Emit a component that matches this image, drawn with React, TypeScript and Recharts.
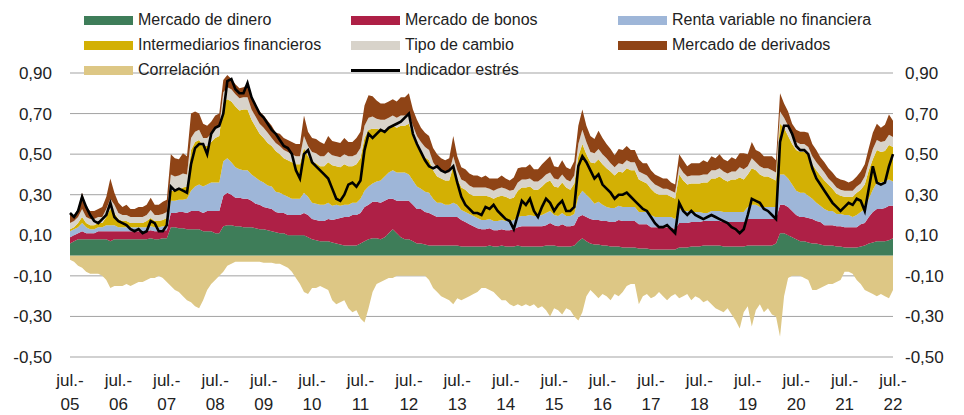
import { ComposedChart, Area, Line, XAxis, YAxis, CartesianGrid } from 'recharts'

// monthly, jul-05 .. jul-22 (one row per year)
const years = ['05', '06', '07', '08', '09', '10', '11', '12', '13', '14', '15', '16', '17', '18', '19', '20', '21', '22']

const dinero = [
  0.06, 0.07, 0.08, 0.08, 0.08, 0.08,
  0.08, 0.08, 0.08, 0.08, 0.07, 0.08, 0.08, 0.08, 0.08, 0.08, 0.08, 0.08,
  0.08, 0.08, 0.085, 0.08, 0.08, 0.085, 0.085, 0.14, 0.14, 0.135, 0.135, 0.13,
  0.13, 0.13, 0.13, 0.12, 0.12, 0.12, 0.11, 0.11, 0.145, 0.15, 0.15, 0.145,
  0.145, 0.14, 0.14, 0.14, 0.135, 0.13, 0.13, 0.125, 0.12, 0.115, 0.11, 0.11,
  0.1, 0.1, 0.1, 0.1, 0.1, 0.09, 0.08, 0.075, 0.07, 0.07, 0.07, 0.065,
  0.06, 0.055, 0.05, 0.05, 0.05, 0.05, 0.06, 0.07, 0.08, 0.085, 0.085, 0.08,
  0.09, 0.11, 0.13, 0.11, 0.09, 0.08, 0.08, 0.07, 0.06, 0.06, 0.055, 0.05,
  0.05, 0.05, 0.05, 0.05, 0.05, 0.05, 0.05, 0.045, 0.045, 0.045, 0.045, 0.045,
  0.045, 0.045, 0.05, 0.045, 0.045, 0.05, 0.045, 0.045, 0.045, 0.05, 0.045, 0.045,
  0.045, 0.045, 0.045, 0.045, 0.05, 0.05, 0.05, 0.045, 0.045, 0.045, 0.045, 0.05,
  0.07, 0.085, 0.07, 0.06, 0.055, 0.055, 0.05, 0.05, 0.045, 0.045, 0.045, 0.04,
  0.04, 0.04, 0.04, 0.035, 0.035, 0.035, 0.03, 0.03, 0.03, 0.03, 0.03, 0.03,
  0.03, 0.04, 0.04, 0.04, 0.045, 0.045, 0.045, 0.05, 0.05, 0.05, 0.05, 0.05,
  0.045, 0.045, 0.045, 0.045, 0.045, 0.045, 0.05, 0.05, 0.05, 0.05, 0.05, 0.05,
  0.05, 0.06, 0.11, 0.11, 0.1, 0.09, 0.08, 0.07, 0.07, 0.065, 0.06, 0.06,
  0.055, 0.05, 0.05, 0.05, 0.045, 0.045, 0.04, 0.04, 0.04, 0.04, 0.045, 0.05,
  0.06, 0.065, 0.07, 0.07, 0.07, 0.075, 0.085,
]

const bonos = [
  0.03, 0.03, 0.03, 0.04, 0.03, 0.03,
  0.03, 0.04, 0.04, 0.04, 0.05, 0.04, 0.04, 0.04, 0.04, 0.04, 0.04, 0.04,
  0.04, 0.04, 0.04, 0.04, 0.04, 0.04, 0.04, 0.07, 0.07, 0.08, 0.08, 0.08,
  0.09, 0.09, 0.09, 0.09, 0.1, 0.1, 0.11, 0.11, 0.15, 0.16, 0.15, 0.14,
  0.14, 0.14, 0.14, 0.13, 0.12, 0.12, 0.11, 0.11, 0.11, 0.1, 0.1, 0.1,
  0.1, 0.1, 0.1, 0.1, 0.11, 0.11, 0.1, 0.1, 0.1, 0.1, 0.11, 0.11,
  0.12, 0.13, 0.14, 0.14, 0.15, 0.15, 0.15, 0.17, 0.17, 0.18, 0.18, 0.18,
  0.18, 0.17, 0.15, 0.16, 0.18, 0.19, 0.19, 0.18, 0.17, 0.17, 0.16, 0.16,
  0.15, 0.14, 0.14, 0.14, 0.14, 0.14, 0.14, 0.13, 0.12, 0.11, 0.1, 0.09,
  0.085, 0.085, 0.085, 0.08, 0.08, 0.08, 0.08, 0.08, 0.085, 0.09, 0.1, 0.1,
  0.1, 0.1, 0.1, 0.1, 0.1, 0.11, 0.1, 0.1, 0.11, 0.1, 0.1, 0.1,
  0.12, 0.115, 0.12, 0.12, 0.12, 0.12, 0.12, 0.12, 0.12, 0.12, 0.13, 0.13,
  0.13, 0.13, 0.13, 0.12, 0.12, 0.12, 0.11, 0.11, 0.11, 0.11, 0.11, 0.11,
  0.1, 0.12, 0.12, 0.12, 0.12, 0.12, 0.12, 0.12, 0.12, 0.12, 0.12, 0.12,
  0.12, 0.12, 0.12, 0.12, 0.12, 0.12, 0.13, 0.13, 0.13, 0.13, 0.13, 0.13,
  0.13, 0.12, 0.14, 0.14, 0.14, 0.13, 0.12, 0.12, 0.12, 0.12, 0.12, 0.11,
  0.11, 0.1, 0.1, 0.1, 0.1, 0.1, 0.1, 0.1, 0.1, 0.1, 0.11, 0.11,
  0.13, 0.15, 0.16, 0.16, 0.165, 0.17, 0.16,
]

const renta = [
  0.03, 0.03, 0.03, 0.04, 0.03, 0.02,
  0.02, 0.02, 0.02, 0.03, 0.03, 0.03, 0.02, 0.02, 0.02, 0.02, 0.02, 0.02,
  0.02, 0.02, 0.02, 0.02, 0.02, 0.02, 0.02, 0.06, 0.06, 0.06, 0.06, 0.07,
  0.1, 0.12, 0.13, 0.13, 0.13, 0.14, 0.14, 0.14, 0.17, 0.17, 0.16, 0.15,
  0.14, 0.14, 0.14, 0.13, 0.13, 0.12, 0.12, 0.11, 0.11, 0.1, 0.1, 0.09,
  0.09, 0.08, 0.08, 0.08, 0.1, 0.09, 0.08, 0.08, 0.08, 0.08, 0.08, 0.07,
  0.07, 0.06, 0.06, 0.06, 0.06, 0.06, 0.07, 0.08, 0.09, 0.09, 0.1, 0.11,
  0.12, 0.13, 0.14, 0.14, 0.14, 0.14, 0.13, 0.12, 0.11, 0.1, 0.1, 0.1,
  0.08, 0.07, 0.07, 0.06, 0.06, 0.07, 0.06, 0.05, 0.05, 0.05, 0.05, 0.05,
  0.045, 0.045, 0.045, 0.045, 0.045, 0.045, 0.045, 0.045, 0.045, 0.05, 0.05, 0.05,
  0.055, 0.05, 0.05, 0.055, 0.06, 0.06, 0.05, 0.05, 0.055, 0.05, 0.05, 0.055,
  0.1, 0.12, 0.11, 0.1, 0.08, 0.09, 0.08, 0.07, 0.07, 0.07, 0.07, 0.07,
  0.07, 0.07, 0.07, 0.06, 0.06, 0.06, 0.06, 0.05, 0.05, 0.05, 0.05, 0.05,
  0.05, 0.07, 0.06, 0.06, 0.05, 0.05, 0.05, 0.04, 0.04, 0.05, 0.05, 0.05,
  0.05, 0.05, 0.05, 0.05, 0.05, 0.05, 0.06, 0.07, 0.07, 0.06, 0.06, 0.06,
  0.06, 0.06, 0.15, 0.15, 0.14, 0.13, 0.12, 0.12, 0.12, 0.11, 0.1, 0.09,
  0.08, 0.08, 0.07, 0.07, 0.06, 0.06, 0.06, 0.06, 0.05, 0.06, 0.06, 0.07,
  0.09, 0.11, 0.13, 0.13, 0.13, 0.13, 0.12,
]

const intermediarios = [
  0.01, 0.01, 0.02, 0.03, 0.02, 0.02,
  0.02, 0.02, 0.02, 0.04, 0.08, 0.06, 0.04, 0.03, 0.03, 0.02, 0.02, 0.02,
  0.02, 0.03, 0.04, 0.03, 0.03, 0.03, 0.04, 0.05, 0.05, 0.05, 0.06, 0.06,
  0.2, 0.22, 0.22, 0.2, 0.19, 0.2, 0.22, 0.23, 0.29, 0.29, 0.3, 0.3,
  0.29, 0.3, 0.3, 0.27, 0.25, 0.23, 0.22, 0.21, 0.2, 0.2, 0.19, 0.18,
  0.18, 0.18, 0.17, 0.17, 0.22, 0.2, 0.2, 0.2, 0.19, 0.19, 0.2, 0.2,
  0.19, 0.19, 0.2, 0.19, 0.18, 0.19, 0.2, 0.26, 0.28, 0.27, 0.26, 0.25,
  0.23, 0.22, 0.22, 0.22, 0.23, 0.23, 0.25, 0.22, 0.2, 0.18, 0.17, 0.16,
  0.14, 0.13, 0.12, 0.12, 0.12, 0.18, 0.13, 0.11, 0.11, 0.1, 0.1, 0.11,
  0.12, 0.12, 0.11, 0.11, 0.12, 0.12, 0.12, 0.11, 0.11, 0.13, 0.14, 0.14,
  0.14, 0.13, 0.13, 0.14, 0.15, 0.15, 0.14, 0.14, 0.15, 0.14, 0.13, 0.15,
  0.2, 0.23, 0.2, 0.18, 0.2, 0.21, 0.2, 0.19, 0.18, 0.16, 0.17, 0.17,
  0.19, 0.18, 0.18, 0.16, 0.15, 0.14, 0.13, 0.12, 0.11, 0.11, 0.11, 0.1,
  0.1, 0.17, 0.15, 0.13, 0.14, 0.14, 0.14, 0.15, 0.15, 0.16, 0.16, 0.17,
  0.16, 0.15, 0.16, 0.16, 0.17, 0.16, 0.16, 0.18, 0.17, 0.16, 0.15, 0.15,
  0.14, 0.13, 0.25, 0.23, 0.21, 0.2, 0.2, 0.2, 0.2, 0.2, 0.17, 0.16,
  0.15, 0.14, 0.13, 0.11, 0.1, 0.09, 0.09, 0.09, 0.1, 0.11, 0.11, 0.12,
  0.14, 0.15, 0.16, 0.15, 0.15, 0.17, 0.17,
]

const tipoCambio = [
  0.03, 0.03, 0.03, 0.04, 0.03, 0.03,
  0.03, 0.03, 0.03, 0.04, 0.05, 0.04, 0.03, 0.03, 0.03, 0.03, 0.03, 0.03,
  0.03, 0.03, 0.04, 0.03, 0.03, 0.03, 0.03, 0.08, 0.07, 0.07, 0.07, 0.06,
  0.06, 0.05, 0.05, 0.04, 0.04, 0.04, 0.05, 0.05, 0.05, 0.06, 0.06, 0.06,
  0.06, 0.06, 0.06, 0.05, 0.05, 0.05, 0.05, 0.05, 0.04, 0.04, 0.04, 0.04,
  0.04, 0.04, 0.04, 0.04, 0.06, 0.05, 0.05, 0.05, 0.05, 0.05, 0.05, 0.05,
  0.05, 0.05, 0.05, 0.05, 0.05, 0.05, 0.05, 0.06, 0.06, 0.06, 0.05, 0.05,
  0.05, 0.05, 0.05, 0.05, 0.05, 0.05, 0.05, 0.05, 0.05, 0.05, 0.05, 0.05,
  0.04, 0.04, 0.04, 0.04, 0.04, 0.05, 0.04, 0.04, 0.04, 0.04, 0.04, 0.04,
  0.04, 0.04, 0.04, 0.04, 0.04, 0.04, 0.04, 0.04, 0.04, 0.04, 0.04, 0.04,
  0.04, 0.04, 0.04, 0.04, 0.04, 0.04, 0.04, 0.04, 0.04, 0.04, 0.04, 0.04,
  0.06, 0.07, 0.06, 0.05, 0.05, 0.05, 0.05, 0.05, 0.04, 0.04, 0.04, 0.04,
  0.04, 0.04, 0.04, 0.04, 0.04, 0.04, 0.04, 0.04, 0.04, 0.03, 0.03, 0.03,
  0.03, 0.04, 0.04, 0.04, 0.04, 0.04, 0.04, 0.04, 0.04, 0.04, 0.04, 0.04,
  0.04, 0.04, 0.04, 0.04, 0.05, 0.05, 0.04, 0.05, 0.04, 0.04, 0.04, 0.04,
  0.04, 0.04, 0.06, 0.05, 0.05, 0.04, 0.04, 0.04, 0.04, 0.04, 0.04, 0.04,
  0.04, 0.04, 0.03, 0.03, 0.03, 0.03, 0.03, 0.03, 0.03, 0.03, 0.03, 0.04,
  0.04, 0.05, 0.05, 0.05, 0.05, 0.05, 0.05,
]

const derivados = [
  0.04, 0.03, 0.04, 0.08, 0.05, 0.04,
  0.04, 0.04, 0.05, 0.06, 0.1, 0.06, 0.05, 0.04, 0.05, 0.04, 0.04, 0.05,
  0.05, 0.05, 0.06, 0.05, 0.05, 0.06, 0.06, 0.1, 0.09, 0.08, 0.1, 0.09,
  0.12, 0.1, 0.08, 0.07, 0.06, 0.06, 0.06, 0.06, 0.06, 0.06, 0.05, 0.05,
  0.05, 0.05, 0.06, 0.06, 0.06, 0.06, 0.06, 0.06, 0.06, 0.05, 0.06, 0.06,
  0.06, 0.06, 0.06, 0.06, 0.1, 0.07, 0.07, 0.07, 0.07, 0.06, 0.08, 0.07,
  0.07, 0.07, 0.08, 0.07, 0.07, 0.08, 0.08, 0.1, 0.11, 0.1, 0.09, 0.08,
  0.08, 0.08, 0.08, 0.08, 0.09, 0.09, 0.1, 0.08, 0.08, 0.07, 0.07, 0.07,
  0.07, 0.07, 0.06, 0.06, 0.07, 0.1, 0.07, 0.06, 0.06, 0.06, 0.06, 0.06,
  0.05, 0.06, 0.05, 0.06, 0.05, 0.06, 0.05, 0.05, 0.06, 0.07, 0.06, 0.06,
  0.07, 0.06, 0.06, 0.07, 0.07, 0.08, 0.06, 0.06, 0.07, 0.06, 0.06, 0.07,
  0.09, 0.1, 0.08, 0.08, 0.07, 0.09, 0.08, 0.07, 0.07, 0.06, 0.07, 0.07,
  0.07, 0.06, 0.06, 0.06, 0.05, 0.06, 0.05, 0.05, 0.05, 0.05, 0.05, 0.04,
  0.04, 0.06, 0.06, 0.05, 0.06, 0.06, 0.06, 0.07, 0.06, 0.07, 0.06, 0.07,
  0.06, 0.06, 0.07, 0.06, 0.07, 0.08, 0.06, 0.08, 0.06, 0.07, 0.06, 0.06,
  0.07, 0.06, 0.09, 0.07, 0.07, 0.06, 0.06, 0.06, 0.06, 0.07, 0.06, 0.06,
  0.05, 0.05, 0.05, 0.05, 0.05, 0.05, 0.05, 0.04, 0.05, 0.05, 0.06, 0.06,
  0.07, 0.08, 0.08, 0.07, 0.08, 0.1, 0.08,
]

const correlacion = [
  -0.02, -0.03, -0.05, -0.06, -0.08, -0.09,
  -0.09, -0.09, -0.1, -0.12, -0.16, -0.15, -0.15, -0.15, -0.14, -0.15, -0.14, -0.13,
  -0.13, -0.12, -0.11, -0.11, -0.1, -0.11, -0.13, -0.15, -0.17, -0.18, -0.2, -0.22,
  -0.23, -0.25, -0.26, -0.22, -0.17, -0.14, -0.12, -0.1, -0.08, -0.05, -0.04, -0.03,
  -0.03, -0.03, -0.03, -0.03, -0.03, -0.03, -0.035, -0.035, -0.035, -0.04, -0.04, -0.05,
  -0.06, -0.08, -0.11, -0.14, -0.18, -0.19, -0.16, -0.16, -0.15, -0.16, -0.17, -0.22,
  -0.24, -0.23, -0.22, -0.26, -0.28, -0.27, -0.31, -0.33, -0.26, -0.18, -0.14, -0.13,
  -0.12, -0.11, -0.11, -0.1, -0.1, -0.1, -0.1, -0.1, -0.1, -0.1, -0.1, -0.12,
  -0.16, -0.18, -0.2, -0.21, -0.22, -0.24, -0.21, -0.22, -0.21, -0.2, -0.19, -0.18,
  -0.16, -0.16, -0.17, -0.18, -0.2, -0.22, -0.22, -0.24, -0.25, -0.24, -0.25, -0.24,
  -0.25, -0.24, -0.26, -0.25, -0.27, -0.3, -0.26, -0.27, -0.29, -0.26, -0.27, -0.3,
  -0.32, -0.28, -0.2, -0.17, -0.19, -0.21, -0.19, -0.2, -0.22, -0.19, -0.2, -0.18,
  -0.15, -0.14, -0.14, -0.24, -0.2, -0.19, -0.21, -0.2, -0.18, -0.2, -0.22, -0.2,
  -0.19, -0.21, -0.2, -0.19, -0.22, -0.2, -0.21, -0.23, -0.22, -0.24, -0.26, -0.27,
  -0.28, -0.26, -0.29, -0.32, -0.36, -0.28, -0.25, -0.35, -0.27, -0.24, -0.28, -0.26,
  -0.29, -0.3, -0.4, -0.2, -0.11, -0.1, -0.1, -0.1, -0.11, -0.12, -0.17, -0.17,
  -0.16, -0.15, -0.14, -0.14, -0.13, -0.12, -0.08, -0.08, -0.09, -0.12, -0.14, -0.17,
  -0.18, -0.19, -0.2, -0.19, -0.2, -0.21, -0.17,
]

const indicador = [
  0.21, 0.19, 0.22, 0.29, 0.24, 0.2,
  0.17, 0.16, 0.18, 0.2, 0.26, 0.19, 0.17, 0.16, 0.15, 0.13, 0.12, 0.13,
  0.11, 0.12, 0.17, 0.16, 0.12, 0.12, 0.15, 0.34, 0.32, 0.33, 0.32, 0.31,
  0.45, 0.53, 0.55, 0.55, 0.5, 0.6, 0.63, 0.64, 0.7, 0.86, 0.87, 0.82,
  0.8, 0.8, 0.85, 0.78, 0.74, 0.7, 0.68, 0.65, 0.62, 0.6, 0.57, 0.54,
  0.53, 0.5, 0.42, 0.38, 0.5, 0.52, 0.46, 0.44, 0.42, 0.4, 0.38, 0.33,
  0.28, 0.27, 0.3, 0.35, 0.36, 0.34, 0.37, 0.52, 0.6, 0.58, 0.6, 0.62,
  0.61, 0.63, 0.64, 0.65, 0.66, 0.68, 0.7, 0.6, 0.55, 0.51, 0.47, 0.44,
  0.43, 0.44, 0.42, 0.41, 0.42, 0.44, 0.36, 0.29, 0.25, 0.23, 0.21, 0.21,
  0.2, 0.24, 0.23, 0.25, 0.22, 0.2, 0.18, 0.17, 0.13, 0.2, 0.27, 0.25,
  0.28, 0.22, 0.19, 0.24, 0.28, 0.26, 0.22, 0.25, 0.27, 0.22, 0.22, 0.24,
  0.44, 0.49, 0.46, 0.42, 0.38, 0.4, 0.35, 0.33, 0.31, 0.28, 0.3, 0.3,
  0.31, 0.29, 0.27, 0.25, 0.23, 0.22, 0.19, 0.16, 0.14, 0.14, 0.15, 0.13,
  0.11, 0.26, 0.22, 0.2, 0.22, 0.2, 0.19, 0.18, 0.19, 0.2, 0.19, 0.18,
  0.17, 0.16, 0.14, 0.13, 0.11, 0.13, 0.2, 0.28, 0.27, 0.26, 0.23, 0.22,
  0.2, 0.18, 0.56, 0.64, 0.64, 0.6, 0.54, 0.52, 0.52, 0.5, 0.43, 0.38,
  0.35, 0.32, 0.29, 0.26, 0.24, 0.22, 0.24, 0.26, 0.25, 0.28, 0.27, 0.22,
  0.33, 0.44, 0.36, 0.35, 0.36, 0.44, 0.5,
]

const yTicks = [-0.5, -0.3, -0.1, 0.1, 0.3, 0.5, 0.7, 0.9]
const xTicks = years.map((_, k) => k * 12)

const data = dinero.map((v, i) => ({
  t: i,
  dinero: v,
  bonos: bonos[i],
  renta: renta[i],
  intermediarios: intermediarios[i],
  tipoCambio: tipoCambio[i],
  derivados: derivados[i],
  correlacion: correlacion[i],
  indicador: indicador[i],
}))

const stacked = [
  { key: 'dinero', name: 'Mercado de dinero', color: '#3e7d59' },
  { key: 'bonos', name: 'Mercado de bonos', color: '#ae2046' },
  { key: 'renta', name: 'Renta variable no financiera', color: '#9eb6d8' },
  { key: 'intermediarios', name: 'Intermediarios financieros', color: '#d3b004' },
  { key: 'tipoCambio', name: 'Tipo de cambio', color: '#d8d3ca' },
  { key: 'derivados', name: 'Mercado de derivados', color: '#8f4416' },
]
const corrColor = '#ddc785'

const legendRows = [
  [stacked[0], stacked[1], stacked[2]],
  [stacked[3], stacked[4], stacked[5]],
  [
    { key: 'correlacion', name: 'Correlación', color: corrColor },
    { key: 'indicador', name: 'Indicador estrés', color: '#000' },
  ],
]

const font = '"Liberation Sans", Arial, sans-serif'
const fmt = (v: number) => v.toFixed(2).replace('.', ',')

function XTick({ x, y, payload }: any) {
  return (
    <g>
      <text x={x} y={y + 27} textAnchor="middle" fontSize={17} fill="#222" fontFamily={font}>
        jul.-
      </text>
      <text x={x} y={y + 51} textAnchor="middle" fontSize={17} fill="#222" fontFamily={font}>
        {years[Math.round(payload.value / 12)]}
      </text>
    </g>
  )
}

export default function App() {
  return (
    <div style={{ position: 'absolute', left: 0, top: 0, width: 964, height: 415, background: '#fff', fontFamily: font }}>
      <ComposedChart width={964} height={415} data={data} margin={{ top: 73, right: 11, bottom: 8, left: 10 }}>
        <CartesianGrid yAxisId="l" vertical={false} stroke="#a3a3a3" />
        <XAxis
          dataKey="t"
          type="number"
          domain={[0, 204]}
          ticks={xTicks}
          interval={0}
          tick={<XTick />}
          tickLine={false}
          axisLine={false}
          tickSize={0}
          height={50}
        />
        <YAxis
          yAxisId="l"
          domain={[-0.5, 0.9]}
          ticks={yTicks}
          tickFormatter={fmt}
          axisLine={false}
          tickLine={false}
          tickSize={0}
          tickMargin={18}
          width={60}
          tick={{ fontSize: 17, fill: '#222', fontFamily: font }}
        />
        <YAxis
          yAxisId="r"
          orientation="right"
          domain={[-0.5, 0.9]}
          ticks={yTicks}
          tickFormatter={fmt}
          axisLine={false}
          tickLine={false}
          tickSize={0}
          tickMargin={12}
          width={60}
          tick={{ fontSize: 17, fill: '#222', fontFamily: font }}
        />
        <Area
          yAxisId="r"
          type="linear"
          dataKey="correlacion"
          fill={corrColor}
          fillOpacity={1}
          stroke="none"
          isAnimationActive={false}
        />
        {stacked.map((s) => (
          <Area
            key={s.key}
            yAxisId="l"
            type="linear"
            dataKey={s.key}
            stackId="a"
            fill={s.color}
            fillOpacity={1}
            stroke="none"
            isAnimationActive={false}
          />
        ))}
        <Line
          yAxisId="l"
          type="linear"
          dataKey="indicador"
          stroke="#000"
          strokeWidth={2.6}
          dot={false}
          isAnimationActive={false}
        />
      </ComposedChart>

      {legendRows.map((row, r) =>
        row.map((item, c) => (
          <div
            key={item.key}
            style={{ position: 'absolute', left: 84 + c * 267, top: 20 + r * 25 - 9, height: 18, display: 'flex', alignItems: 'center' }}
          >
            {item.key === 'indicador' ? (
              <div style={{ width: 49, height: 3, background: item.color }} />
            ) : (
              <div style={{ width: 49, height: 9, background: item.color }} />
            )}
            <span style={{ marginLeft: 5, fontSize: 16, color: '#222', whiteSpace: 'nowrap' }}>{item.name}</span>
          </div>
        ))
      )}
    </div>
  )
}
